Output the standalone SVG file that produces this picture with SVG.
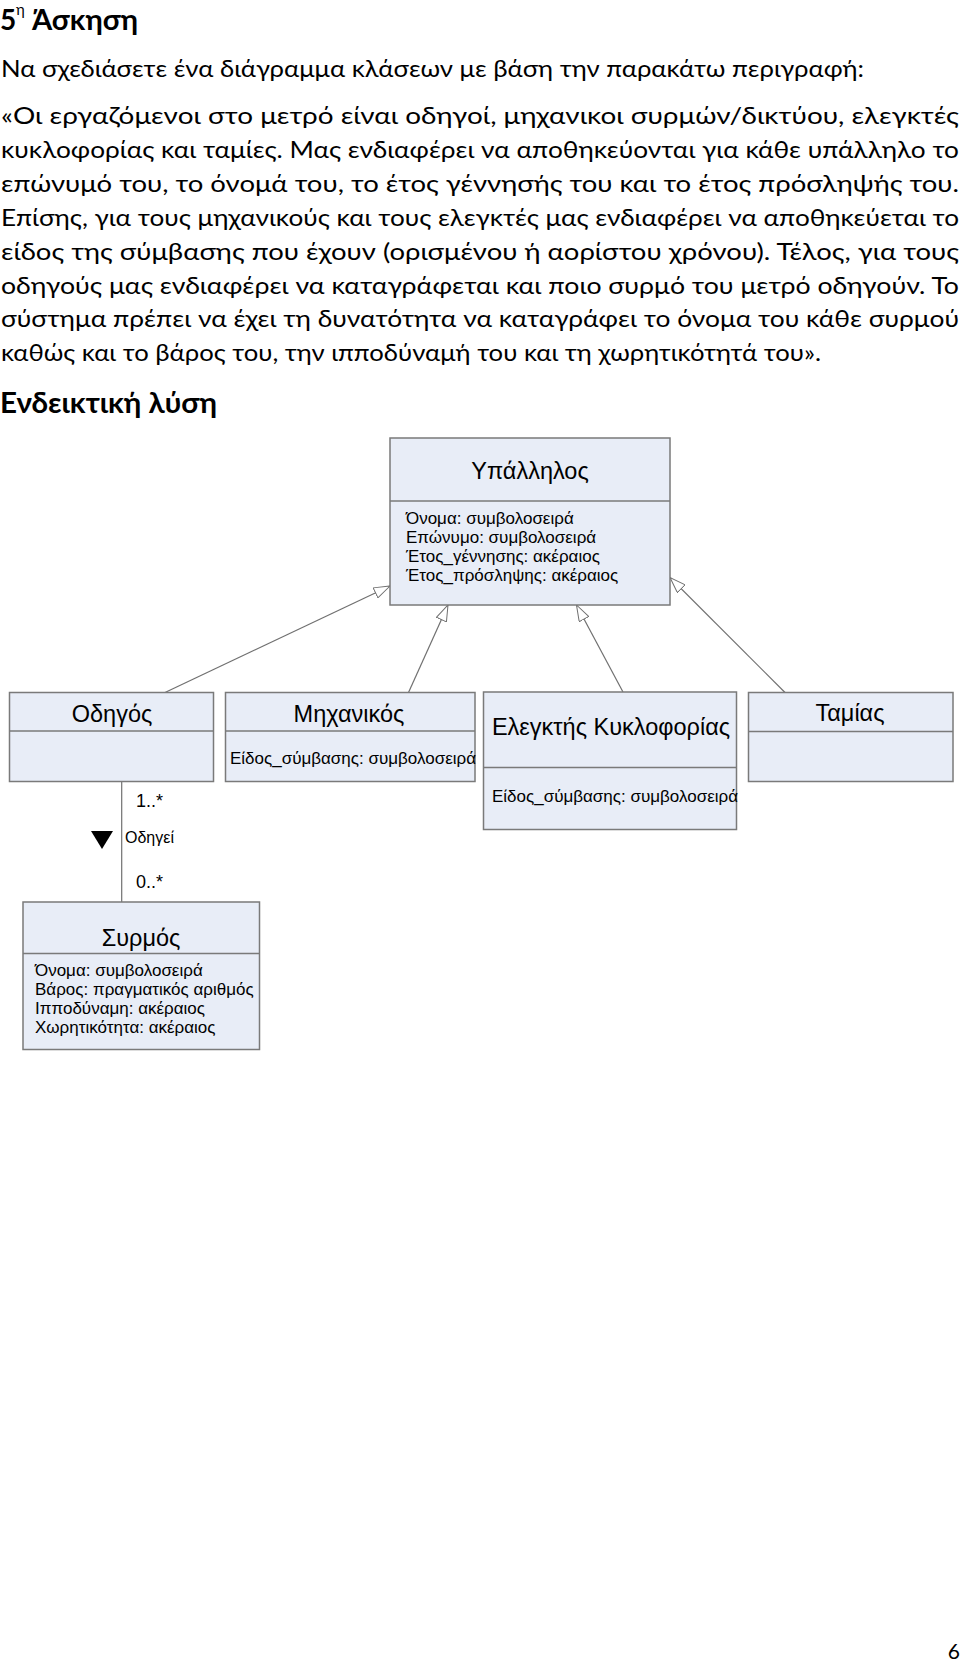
<svg xmlns="http://www.w3.org/2000/svg" width="960" height="1662" viewBox="0 0 960 1662">
<style>
.body{font-family:Lato,"Open Sans","Noto Sans",sans-serif;font-size:24px;fill:#000}
.head{font-family:Lato,"Open Sans","Noto Sans",sans-serif;font-size:28px;font-weight:bold;fill:#000}
.box{fill:#E8EDF7;stroke:#7A7A7A;stroke-width:1.5}
.div{stroke:#7A7A7A;stroke-width:1.5}
.ttl{font-family:"Liberation Sans",Arial,sans-serif;font-size:23.5px;fill:#000;text-anchor:middle}
.att{font-family:"Liberation Sans",Arial,sans-serif;font-size:17px;fill:#000}
.lbl{font-family:"Liberation Sans",Arial,sans-serif;font-size:18px;fill:#000}
.lbs{font-family:"Liberation Sans",Arial,sans-serif;font-size:16px;fill:#000}
.con{stroke:#707070;stroke-width:1.2;fill:none}
</style>
<defs>
<marker id="gen" viewBox="0 0 17 12" refX="16.5" refY="6" markerWidth="17" markerHeight="12" markerUnits="userSpaceOnUse" orient="auto">
<path d="M0.5,0.5 L16.5,6 L0.5,11.5 Z" fill="#FFFFFF" stroke="#707070" stroke-width="1"/>
</marker>
</defs>
<rect width="960" height="1662" fill="#FFFFFF"/>

<g id="text">
<text class="head" x="0" y="30">5</text>
<text class="head" x="16" y="14.5" style="font-size:15px;font-weight:normal">η</text>
<text class="head" x="32" y="30" textLength="106" lengthAdjust="spacingAndGlyphs">Άσκηση</text>
<text class="body" x="1" y="77" textLength="863" lengthAdjust="spacingAndGlyphs">Να σχεδιάσετε ένα διάγραμμα κλάσεων με βάση την παρακάτω περιγραφή:</text>
<text class="body" x="1" y="124" textLength="958" lengthAdjust="spacingAndGlyphs">«Οι εργαζόμενοι στο μετρό είναι οδηγοί, μηχανικοι συρμών/δικτύου, ελεγκτές</text>
<text class="body" x="1" y="158" textLength="958" lengthAdjust="spacingAndGlyphs">κυκλοφορίας και ταμίες. Μας ενδιαφέρει να αποθηκεύονται για κάθε υπάλληλο το</text>
<text class="body" x="1" y="192" textLength="958" lengthAdjust="spacingAndGlyphs">επώνυμό του, το όνομά του, το έτος γέννησής του και το έτος πρόσληψής του.</text>
<text class="body" x="1" y="226" textLength="958" lengthAdjust="spacingAndGlyphs">Επίσης, για τους μηχανικούς και τους ελεγκτές μας ενδιαφέρει να αποθηκεύεται το</text>
<text class="body" x="1" y="260" textLength="958" lengthAdjust="spacingAndGlyphs">είδος της σύμβασης που έχουν (ορισμένου ή αορίστου χρόνου). Τέλος, για τους</text>
<text class="body" x="1" y="294" textLength="958" lengthAdjust="spacingAndGlyphs">οδηγούς μας ενδιαφέρει να καταγράφεται και ποιο συρμό του μετρό οδηγούν. Το</text>
<text class="body" x="1" y="327" textLength="958" lengthAdjust="spacingAndGlyphs">σύστημα πρέπει να έχει τη δυνατότητα να καταγράφει το όνομα του κάθε συρμού</text>
<text class="body" x="1" y="361" textLength="820" lengthAdjust="spacingAndGlyphs">καθώς και το βάρος του, την ιπποδύναμή του και τη χωρητικότητά του».</text>
<text class="head" x="0" y="413" textLength="217" lengthAdjust="spacingAndGlyphs">Ενδεικτική λύση</text>
<text class="body" x="960" y="1659" style="font-size:21px" text-anchor="end">6</text>
</g>

<g id="connectors">
<line class="con" x1="165" y1="692.5" x2="390" y2="586" marker-end="url(#gen)"/>
<line class="con" x1="408.5" y1="692.5" x2="448" y2="605" marker-end="url(#gen)"/>
<line class="con" x1="623" y1="692" x2="576.5" y2="605" marker-end="url(#gen)"/>
<line class="con" x1="785" y1="692.5" x2="670" y2="577.5" marker-end="url(#gen)"/>
<line class="con" x1="121.7" y1="782" x2="121.7" y2="902"/>
<polygon points="91,831 113,831 102,849" fill="#000"/>
<text class="lbl" x="136" y="807">1..*</text>
<text class="lbs" x="125" y="843">Οδηγεί</text>
<text class="lbl" x="136" y="888">0..*</text>
</g>

<g id="ypallilos">
<rect class="box" x="390" y="438" width="280" height="167"/>
<line class="div" x1="390" y1="501" x2="670" y2="501"/>
<text class="ttl" x="530" y="479">Υπάλληλος</text>
<text class="att" x="406" y="524">Όνομα: συμβολοσειρά</text>
<text class="att" x="406" y="543">Επώνυμο: συμβολοσειρά</text>
<text class="att" x="406" y="562">Έτος_γέννησης: ακέραιος</text>
<text class="att" x="406" y="580.5">Έτος_πρόσληψης: ακέραιος</text>
</g>

<g id="odigos">
<rect class="box" x="9.5" y="692.5" width="204" height="89"/>
<line class="div" x1="9.5" y1="731" x2="213.5" y2="731"/>
<text class="ttl" x="112" y="722">Οδηγός</text>
</g>

<g id="michanikos">
<rect class="box" x="225.5" y="692.5" width="249.5" height="89"/>
<line class="div" x1="225.5" y1="731" x2="475" y2="731"/>
<text class="ttl" x="349" y="722">Μηχανικός</text>
<text class="att" x="230" y="764">Είδος_σύμβασης: συμβολοσειρά</text>
</g>

<g id="elegktis">
<rect class="box" x="483.5" y="692" width="253" height="137.5"/>
<line class="div" x1="483.5" y1="767.5" x2="736.5" y2="767.5"/>
<text class="ttl" x="611" y="735">Ελεγκτής Κυκλοφορίας</text>
<text class="att" x="492" y="801.5">Είδος_σύμβασης: συμβολοσειρά</text>
</g>

<g id="tamias">
<rect class="box" x="748.5" y="692.5" width="204.5" height="89"/>
<line class="div" x1="748.5" y1="731.5" x2="953" y2="731.5"/>
<text class="ttl" x="850" y="721">Ταμίας</text>
</g>

<g id="syrmos">
<rect class="box" x="23" y="902" width="236.5" height="147.5"/>
<line class="div" x1="23" y1="953.5" x2="259.5" y2="953.5"/>
<text class="ttl" x="141" y="946">Συρμός</text>
<text class="att" x="35" y="975.5">Όνομα: συμβολοσειρά</text>
<text class="att" x="35" y="994.5">Βάρος: πραγματικός αριθμός</text>
<text class="att" x="35" y="1013.5">Ιπποδύναμη: ακέραιος</text>
<text class="att" x="35" y="1032.5">Χωρητικότητα: ακέραιος</text>
</g>
</svg>
